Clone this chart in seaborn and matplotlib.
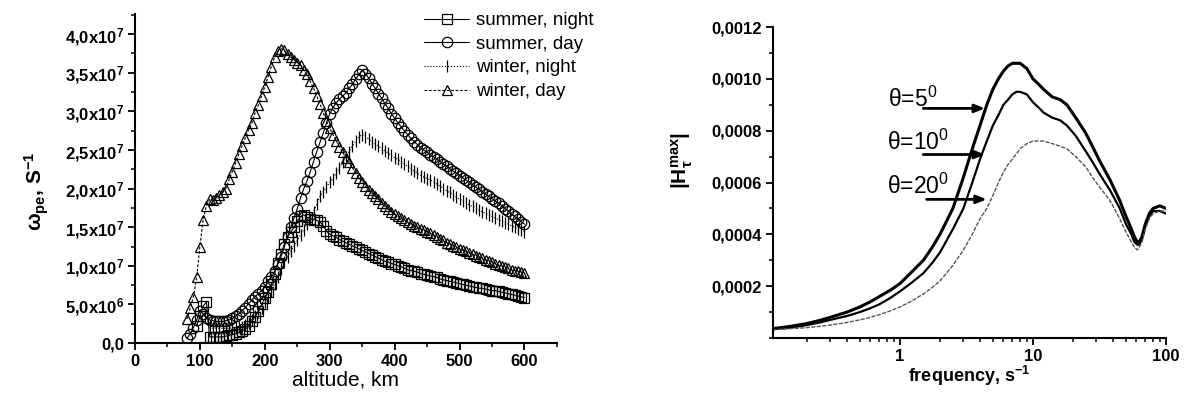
import numpy as np
import matplotlib
matplotlib.use("Agg")
import matplotlib.pyplot as plt
import matplotlib.ticker as mticker
from matplotlib.lines import Line2D
import seaborn as sns

# ---------------- left panel data (values in units of 1e7 s^-1) ----------------
alt_summer_night = list(range(95, 605, 5))
summer_night = [0.22, 0.35, 0.48, 0.53, 0.08, 0.08, 0.08, 0.08, 0.08, 0.09,
                0.10, 0.11, 0.12, 0.14, 0.16, 0.18, 0.22, 0.28, 0.34, 0.42,
                0.50, 0.58, 0.66, 0.76, 0.90, 1.04, 1.16, 1.28, 1.37, 1.44,
                1.50, 1.58, 1.64, 1.66, 1.63, 1.61, 1.60, 1.59, 1.57, 1.52,
                1.45, 1.41, 1.39, 1.37, 1.34, 1.32, 1.30, 1.28, 1.26, 1.24,
                1.22, 1.20, 1.18, 1.16, 1.14, 1.12, 1.10, 1.08, 1.06, 1.05,
                1.03, 1.02, 1.00, 0.99, 0.97, 0.95, 0.94, 0.93, 0.92, 0.90,
                0.89, 0.88, 0.87, 0.86, 0.85, 0.83, 0.82, 0.81, 0.80, 0.79,
                0.78, 0.77, 0.76, 0.75, 0.74, 0.73, 0.72, 0.71, 0.71, 0.70,
                0.69, 0.68, 0.68, 0.67, 0.66, 0.65, 0.64, 0.63, 0.62, 0.61,
                0.60, 0.59]

alt_summer_day = list(range(80, 605, 5))
summer_day = [0.06, 0.12, 0.20, 0.30, 0.42, 0.38, 0.32, 0.30, 0.29, 0.28,
              0.28, 0.28, 0.29, 0.30, 0.32, 0.35, 0.38, 0.42, 0.46, 0.51,
              0.56, 0.60, 0.64, 0.68, 0.73, 0.80, 0.86, 0.93, 1.02, 1.12,
              1.24, 1.38, 1.50, 1.62, 1.74, 1.88, 2.00, 2.10, 2.22, 2.35,
              2.48, 2.60, 2.72, 2.85, 2.97, 3.05, 3.11, 3.16, 3.20, 3.24,
              3.30, 3.35, 3.42, 3.48, 3.53, 3.49, 3.43, 3.36, 3.30, 3.23,
              3.17, 3.10, 3.04, 2.97, 2.91, 2.85, 2.80, 2.75, 2.70, 2.65,
              2.61, 2.57, 2.53, 2.50, 2.47, 2.44, 2.41, 2.38, 2.35, 2.32,
              2.29, 2.26, 2.23, 2.20, 2.17, 2.14, 2.11, 2.08, 2.05, 2.02,
              1.99, 1.96, 1.93, 1.90, 1.87, 1.84, 1.81, 1.78, 1.74, 1.71,
              1.67, 1.64, 1.61, 1.57, 1.54]

alt_winter_night = list(range(115, 605, 5))
winter_night = [0.20, 0.19, 0.19, 0.19, 0.19, 0.19, 0.19, 0.20, 0.20, 0.21,
                0.21, 0.23, 0.26, 0.30, 0.35, 0.40, 0.46, 0.53, 0.60, 0.68,
                0.76, 0.86, 0.96, 1.05, 1.12, 1.19, 1.26, 1.33, 1.40, 1.47,
                1.54, 1.61, 1.70, 1.80, 1.90, 1.96, 2.02, 2.08, 2.13, 2.20,
                2.27, 2.34, 2.41, 2.48, 2.55, 2.62, 2.67, 2.70, 2.67, 2.64,
                2.61, 2.58, 2.55, 2.52, 2.49, 2.46, 2.43, 2.40, 2.38, 2.35,
                2.32, 2.29, 2.26, 2.23, 2.20, 2.17, 2.15, 2.13, 2.11, 2.09,
                2.06, 2.03, 2.00, 1.97, 1.95, 1.92, 1.89, 1.86, 1.84, 1.82,
                1.79, 1.77, 1.75, 1.72, 1.70, 1.68, 1.66, 1.64, 1.62, 1.60,
                1.58, 1.56, 1.54, 1.52, 1.50, 1.48, 1.46, 1.44]

alt_winter_day = list(range(80, 605, 5))
winter_day = [0.31, 0.45, 0.60, 0.85, 1.25, 1.60, 1.78, 1.86, 1.85, 1.88,
              1.92, 1.95, 2.00, 2.12, 2.22, 2.33, 2.45, 2.55, 2.66, 2.76,
              2.85, 2.98, 3.08, 3.20, 3.32, 3.45, 3.58, 3.70, 3.78, 3.81,
              3.79, 3.74, 3.70, 3.67, 3.63, 3.60, 3.54, 3.48, 3.39, 3.30,
              3.20, 3.10, 2.98, 2.87, 2.78, 2.70, 2.62, 2.54, 2.47, 2.40,
              2.34, 2.27, 2.20, 2.14, 2.08, 2.03, 1.98, 1.94, 1.90, 1.86,
              1.82, 1.77, 1.73, 1.70, 1.67, 1.64, 1.62, 1.59, 1.57, 1.54,
              1.52, 1.50, 1.48, 1.46, 1.44, 1.42, 1.40, 1.38, 1.35, 1.33,
              1.30, 1.28, 1.26, 1.24, 1.22, 1.20, 1.19, 1.17, 1.15, 1.13,
              1.11, 1.10, 1.08, 1.06, 1.05, 1.03, 1.01, 1.00, 0.98, 0.97,
              0.95, 0.94, 0.93, 0.92, 0.91]

series_labels = ["summer, night", "summer, day", "winter, night", "winter, day"]

left_ytick_values = [0, 5e6, 1e7, 1.5e7, 2e7, 2.5e7, 3e7, 3.5e7, 4e7]
left_ytick_labels = ["0,0", "5,0x10$^{6}$", "1,0x10$^{7}$", "1,5x10$^{7}$",
                     "2,0x10$^{7}$", "2,5x10$^{7}$", "3,0x10$^{7}$",
                     "3,5x10$^{7}$", "4,0x10$^{7}$"]

# ---------------- right panel data ----------------
freq = [0.11, 0.15, 0.2, 0.25, 0.3,
        0.4, 0.5, 0.6, 0.7, 0.85,
        1, 1.2, 1.5, 1.75, 2,
        2.5, 3, 3.5, 4, 4.5,
        5, 5.5, 6, 6.5, 7,
        7.5, 8, 9, 10, 11,
        12, 14, 16, 18, 21,
        25, 28, 32, 38, 45,
        50, 55, 58, 61, 63,
        66, 70, 75, 80, 90,
        100]
h_theta5 = [0.000036, 0.000045, 0.000056, 0.000068, 0.00008,
            0.0001, 0.00012, 0.00014, 0.00016, 0.000185,
            0.00021, 0.00025, 0.0003, 0.00035, 0.0004,
            0.0005, 0.00062, 0.00073, 0.00082, 0.0009,
            0.00096, 0.001, 0.00103, 0.00105, 0.00106,
            0.00106, 0.00106, 0.00104, 0.001, 0.00098,
            0.00096, 0.00093, 0.00092, 0.0009, 0.00085,
            0.00079, 0.00074, 0.00068, 0.00061, 0.00053,
            0.00047, 0.00042, 0.00039, 0.00037, 0.00037,
            0.00039, 0.00044, 0.00048, 0.0005, 0.00051,
            0.0005]
h_theta10 = [0.000034, 0.00004, 0.00005, 0.00006, 0.00007,
             0.000085, 0.0001, 0.000115, 0.00013, 0.000155,
             0.00018, 0.00021, 0.00025, 0.00029, 0.00033,
             0.00042, 0.0005, 0.0006, 0.00069, 0.00076,
             0.00082, 0.00086, 0.0009, 0.00092, 0.00094,
             0.00095, 0.00095, 0.00094, 0.00091, 0.00089,
             0.00087, 0.00085, 0.00084, 0.00082, 0.00078,
             0.00072, 0.00068, 0.00063, 0.00057, 0.0005,
             0.00044, 0.0004, 0.00037, 0.00036, 0.00036,
             0.00038, 0.00043, 0.00047, 0.00049, 0.00049,
             0.00048]
h_theta20 = [0.000032, 0.000036, 0.00004, 0.000045, 0.00005,
             0.00006, 0.00007, 0.00008, 0.00009, 0.000105,
             0.00012, 0.00014, 0.00017, 0.000195, 0.00022,
             0.00028, 0.00034, 0.0004, 0.00046, 0.0005,
             0.00055, 0.0006, 0.00064, 0.00067, 0.00069,
             0.00071, 0.00073, 0.00075, 0.00076, 0.00076,
             0.00076, 0.00075, 0.00074, 0.00073, 0.0007,
             0.00066, 0.00062, 0.00058, 0.00053, 0.00046,
             0.00041, 0.00037, 0.00035, 0.00034, 0.00035,
             0.00037, 0.00042, 0.00046, 0.00048, 0.00049,
             0.00049]
theta_labels = ["θ=5$^{0}$", "θ=10$^{0}$", "θ=20$^{0}$"]

right_ytick_values = [0.0002, 0.0004, 0.0006, 0.0008, 0.0010, 0.0012]
right_ytick_labels = ["0,0002", "0,0004", "0,0006", "0,0008", "0,0010", "0,0012"]
right_xtick_values = [1, 10, 100]
right_xtick_labels = ["1", "10", "100"]

# ---------------- style ----------------
sns.set_theme(style="ticks")
plt.rcParams["font.family"] = ["Liberation Sans", "DejaVu Sans"]
plt.rcParams["font.weight"] = "bold"
plt.rcParams["mathtext.default"] = "regular"
for k in ["axes.edgecolor", "text.color", "xtick.color", "ytick.color", "axes.labelcolor"]:
    plt.rcParams[k] = "black"

fig = plt.figure(figsize=(11.85, 4.07), dpi=100)
ax1 = fig.add_axes([0.1139, 0.157, 0.3561, 0.8084])
ax2 = fig.add_axes([0.6523, 0.1695, 0.3316, 0.7641])

styles = [("s", "-", 6.5), ("o", "-", 7.5), ("|", ":", 8), ("^", (0, (2.5, 1.5)), 7.5)]
left_series = [(alt_summer_night, summer_night), (alt_summer_day, summer_day),
               (alt_winter_night, winter_night), (alt_winter_day, winter_day)]

for (x, y), (m, ls, ms), lab in zip(left_series, styles, series_labels):
    sns.lineplot(x=x, y=np.array(y) * 1e7, ax=ax1, color="black", lw=0.8,
                 linestyle=ls, marker=m, markersize=ms, markerfacecolor="none",
                 markeredgecolor="black", markeredgewidth=0.9, legend=False)

ax1.set_xlim(0, 650)
ax1.set_ylim(0, 4.26e7)
ax1.xaxis.set_major_locator(mticker.MultipleLocator(100))
ax1.xaxis.set_minor_locator(mticker.MultipleLocator(50))
ax1.yaxis.set_major_locator(mticker.FixedLocator(left_ytick_values))
ax1.yaxis.set_major_formatter(mticker.FixedFormatter(left_ytick_labels))
ax1.yaxis.set_minor_locator(mticker.MultipleLocator(2.5e6))
ax1.set_xlabel("altitude, km", fontsize=15, fontweight="normal", labelpad=1)
ax1.set_ylabel(r"$\omega_{pe}$, S$^{-1}$", fontsize=15, fontweight="bold")
ax1.yaxis.set_label_coords(-0.2, 0.46)

handles = [Line2D([], [], color="black", lw=0.8, linestyle=ls, marker=m,
                  markersize=ms, markerfacecolor="none", markeredgecolor="black",
                  markeredgewidth=0.9) for (m, ls, ms) in styles]
fig.legend(handles, series_labels, loc="upper left",
           bbox_to_anchor=(424 / 1185, 1 - 12 / 407), frameon=False,
           prop={"size": 13.5, "weight": "normal"}, handlelength=2.4,
           handletextpad=0.4, labelspacing=0.35, borderpad=0, borderaxespad=0)

# right panel
for y, lw, ls, col in [(h_theta5, 2.2, "-", "black"), (h_theta10, 1.6, "-", "black"),
                       (h_theta20, 1.0, (0, (3, 1)), "#555555")]:
    sns.lineplot(x=freq, y=y, ax=ax2, color=col, lw=lw, linestyle=ls, legend=False)

ax2.set_xscale("log")
ax2.set_xlim(0.111, 100)
ax2.set_ylim(0, 0.0012)
ax2.xaxis.set_major_locator(mticker.FixedLocator(right_xtick_values))
ax2.xaxis.set_major_formatter(mticker.FixedFormatter(right_xtick_labels))
ax2.xaxis.set_minor_locator(mticker.LogLocator(base=10, subs=np.arange(2, 10)))
ax2.xaxis.set_minor_formatter(mticker.NullFormatter())
ax2.yaxis.set_major_locator(mticker.FixedLocator(right_ytick_values))
ax2.yaxis.set_major_formatter(mticker.FixedFormatter(right_ytick_labels))
ax2.yaxis.set_minor_locator(mticker.MultipleLocator(0.0001))
ax2.set_xlabel("frequency, s$^{-1}$", fontsize=13, fontweight="bold", labelpad=0)
ax2.set_ylabel(r"$|H_{\tau}^{max}|$", fontsize=15, fontweight="bold")
ax2.yaxis.set_label_coords(-0.198, 0.57)

text_pos = [(0.812, 0.000891), (0.805, 0.000725), (0.805, 0.000558)]
arrow_pos = [((1.497, 0.000886), (4.36, 0.000886)),
             ((1.497, 0.000708), (4.36, 0.000708)),
             ((1.587, 0.000535), (4.49, 0.000535))]
for lab, (tx, ty), (a0, a1) in zip(theta_labels, text_pos, arrow_pos):
    ax2.text(tx, ty, lab, fontsize=16.5, fontweight="normal", ha="left", va="baseline")
    ax2.annotate("", xy=a1, xytext=a0,
                 arrowprops=dict(arrowstyle="-|>,head_length=0.5,head_width=0.2",
                                 color="black", lw=2, shrinkA=0, shrinkB=0))

for ax in (ax1, ax2):
    sns.despine(ax=ax)
    for s in ("left", "bottom"):
        ax.spines[s].set_linewidth(1.5)
    ax.tick_params(which="major", direction="out", length=5, width=1.3, labelsize=12, pad=3)
    ax.tick_params(which="minor", direction="out", length=3, width=1.1)
    for lbl in ax.get_xticklabels() + ax.get_yticklabels():
        lbl.set_fontweight("bold")

fig.savefig("out.png", dpi=100)
